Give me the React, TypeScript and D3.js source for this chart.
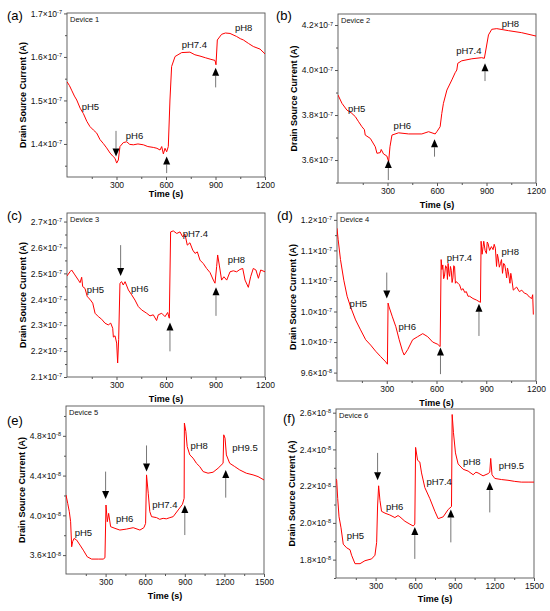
import React, { useRef, useEffect } from 'react';
import * as d3 from 'd3';

type Pt = [number, number];

interface Note {
    text: string;
    t: number;
    v: number;
}

interface Arrow {
    t: number;
    from: number;
    to: number;
}

// time (s), current (in the tick label unit)
const device1: Pt[] = [
    [0, 1.543], [15, 1.534], [30, 1.522], [45, 1.51], [59, 1.501], [80, 1.482], [99, 1.47], [120, 1.452],
    [139, 1.44], [160, 1.432], [180, 1.425], [200, 1.41], [220, 1.401], [240, 1.391], [261, 1.379],
    [280, 1.371], [291, 1.367], [301, 1.356], [311, 1.363], [321, 1.394], [341, 1.403], [362, 1.405],
    [380, 1.399], [402, 1.398], [430, 1.4], [463, 1.398], [490, 1.394], [523, 1.392], [545, 1.39],
    [564, 1.386], [574, 1.394], [584, 1.377], [594, 1.39], [604, 1.382], [614, 1.394], [624, 1.501],
    [634, 1.578], [655, 1.601], [695, 1.61], [745, 1.611], [775, 1.605], [806, 1.602], [840, 1.598],
    [867, 1.595], [897, 1.592], [903, 1.582], [911, 1.639], [937, 1.652], [960, 1.655], [988, 1.654],
    [1028, 1.647], [1050, 1.642], [1069, 1.639], [1100, 1.631], [1129, 1.624], [1170, 1.618], [1200, 1.607],
];
const device2: Pt[] = [
    [0, 3.889], [24, 3.852], [54, 3.822], [80, 3.81], [105, 3.793], [125, 3.77], [145, 3.748],
    [160, 3.735], [165, 3.711], [196, 3.696], [226, 3.659], [236, 3.63], [256, 3.633], [262, 3.647],
    [276, 3.627], [296, 3.618], [307, 3.593], [315, 3.659], [327, 3.711], [367, 3.721], [428, 3.716],
    [508, 3.716], [549, 3.726], [589, 3.716], [599, 3.726], [619, 3.748], [629, 3.807], [639, 3.852],
    [660, 3.911], [690, 3.956], [710, 3.988], [720, 4.0], [726, 4.03], [750, 4.041], [811, 4.05],
    [871, 4.055], [887, 4.052], [896, 4.089], [912, 4.156], [932, 4.181], [962, 4.184], [1033, 4.175],
    [1113, 4.166], [1200, 4.151],
];
const device3: Pt[] = [
    [0, 2.49], [18, 2.506], [28, 2.513], [48, 2.494], [69, 2.474], [79, 2.464], [89, 2.485],
    [95, 2.449], [109, 2.442], [123, 2.41], [139, 2.4], [156, 2.385], [170, 2.346], [190, 2.333],
    [210, 2.323], [230, 2.308], [250, 2.301], [265, 2.308], [277, 2.288], [281, 2.254], [291, 2.259],
    [301, 2.231], [307, 2.154], [313, 2.244], [321, 2.462], [331, 2.468], [341, 2.455], [352, 2.468],
    [372, 2.436], [392, 2.417], [412, 2.397], [432, 2.372], [452, 2.359], [483, 2.346], [503, 2.336],
    [523, 2.34], [543, 2.318], [553, 2.34], [574, 2.346], [594, 2.333], [610, 2.349], [620, 2.327],
    [628, 2.66], [644, 2.664], [665, 2.654], [685, 2.66], [701, 2.641], [715, 2.651], [729, 2.609],
    [745, 2.618], [762, 2.59], [776, 2.577], [790, 2.583], [806, 2.551], [826, 2.538], [846, 2.519],
    [867, 2.503], [887, 2.474], [897, 2.462], [907, 2.526], [913, 2.571], [923, 2.532], [937, 2.474],
    [951, 2.487], [968, 2.474], [988, 2.506], [1008, 2.51], [1028, 2.506], [1048, 2.515], [1065, 2.519],
    [1079, 2.474], [1099, 2.446], [1113, 2.487], [1129, 2.519], [1145, 2.513], [1160, 2.481],
    [1174, 2.513], [1200, 2.506],
];
const device4: Pt[] = [
    [0, 1.149], [7, 1.134], [21, 1.108], [41, 1.081], [61, 1.06], [82, 1.046], [112, 1.029],
    [142, 1.016], [173, 1.003], [203, 0.996], [233, 0.988], [263, 0.981], [294, 0.974], [304, 0.971],
    [308, 1.051], [314, 1.046], [334, 1.033], [355, 1.02], [375, 1.003], [395, 0.988], [405, 0.983],
    [426, 0.99], [456, 1.003], [486, 1.007], [517, 1.011], [547, 1.007], [577, 1.0], [608, 0.997],
    [622, 0.994], [628, 1.108], [633, 1.095], [638, 1.101], [643, 1.083], [648, 1.086], [655, 1.1],
    [662, 1.097], [666, 1.082], [670, 1.103], [675, 1.09], [679, 1.086], [684, 1.099], [689, 1.094],
    [694, 1.078], [699, 1.084], [704, 1.1], [709, 1.099], [714, 1.077], [719, 1.079], [730, 1.077],
    [739, 1.075], [750, 1.068], [760, 1.07], [770, 1.065], [780, 1.066], [790, 1.06], [800, 1.06],
    [820, 1.057], [841, 1.055], [865, 1.052], [869, 1.132], [875, 1.115], [881, 1.125], [885, 1.132],
    [893, 1.12], [901, 1.116], [906, 1.131], [911, 1.129], [920, 1.12], [931, 1.125], [941, 1.121],
    [948, 1.128], [955, 1.123], [962, 1.099], [967, 1.115], [972, 1.11], [979, 1.098], [986, 1.103],
    [992, 1.108], [998, 1.09], [1005, 1.103], [1012, 1.101], [1018, 1.092], [1023, 1.084], [1028, 1.097],
    [1033, 1.092], [1043, 1.077], [1048, 1.09], [1053, 1.084], [1063, 1.068], [1083, 1.072],
    [1100, 1.066], [1114, 1.068], [1130, 1.064], [1144, 1.063], [1160, 1.059], [1174, 1.057],
    [1180, 1.062], [1184, 1.036],
];
const device5: Pt[] = [
    [0, 4.205], [13, 4.121], [25, 4.037], [35, 3.936], [43, 3.684], [50, 3.735], [61, 3.768],
    [81, 3.751], [106, 3.701], [131, 3.65], [161, 3.583], [194, 3.56], [245, 3.56], [282, 3.56],
    [295, 3.573], [303, 4.104], [313, 3.936], [323, 4.02], [338, 3.886], [371, 3.869], [408, 3.852],
    [459, 3.862], [509, 3.876], [560, 3.852], [590, 3.876], [603, 3.919], [610, 4.407], [623, 4.222],
    [635, 4.037], [648, 3.987], [686, 3.977], [710, 3.96], [736, 3.97], [760, 3.965], [787, 3.977],
    [812, 3.987], [850, 4.054], [882, 4.111], [895, 4.171], [897, 4.928], [908, 4.844], [918, 4.692],
    [938, 4.608], [963, 4.575], [988, 4.524], [1013, 4.491], [1039, 4.44], [1076, 4.424], [1114, 4.434],
    [1152, 4.474], [1190, 4.524], [1195, 4.81], [1205, 4.776], [1215, 4.608], [1240, 4.524],
    [1278, 4.491], [1316, 4.457], [1366, 4.424], [1417, 4.407], [1455, 4.39], [1500, 4.356],
];
const device6: Pt[] = [
    [0, 2.24], [5, 2.232], [13, 2.132], [23, 2.033], [38, 1.973], [55, 1.884], [81, 1.864],
    [106, 1.854], [118, 1.824], [144, 1.778], [182, 1.778], [219, 1.794], [270, 1.804], [295, 1.824],
    [308, 1.894], [315, 2.092], [323, 2.202], [333, 2.122], [345, 2.063], [371, 2.053], [408, 2.043],
    [446, 2.029], [470, 2.04], [484, 2.033], [522, 2.009], [560, 1.993], [585, 1.983], [597, 1.993],
    [603, 2.411], [618, 2.341], [635, 2.331], [648, 2.272], [673, 2.192], [711, 2.132], [749, 2.063],
    [774, 2.023], [812, 2.033], [850, 2.073], [875, 2.089], [880, 2.59], [890, 2.491], [905, 2.381],
    [925, 2.321], [963, 2.292], [1001, 2.282], [1039, 2.262], [1060, 2.276], [1076, 2.272],
    [1114, 2.256], [1152, 2.268], [1165, 2.276], [1172, 2.351], [1182, 2.262], [1203, 2.242],
    [1253, 2.236], [1303, 2.232], [1354, 2.226], [1404, 2.222], [1455, 2.222], [1500, 2.222],
];

const notes1: Note[] = [
    { text: 'pH5', t: 89, v: 1.486 }, { text: 'pH6', t: 356, v: 1.418 },
    { text: 'pH7.4', t: 695, v: 1.629 }, { text: 'pH8', t: 1018, v: 1.667 },
];
const notes2: Note[] = [
    { text: 'pH5', t: 60, v: 3.83 }, { text: 'pH6', t: 337, v: 3.751 },
    { text: 'pH7.4', t: 716, v: 4.086 }, { text: 'pH8', t: 992, v: 4.204 },
];
const notes3: Note[] = [
    { text: 'pH5', t: 119, v: 2.438 }, { text: 'pH6', t: 388, v: 2.442 },
    { text: 'pH7.4', t: 701, v: 2.654 }, { text: 'pH8', t: 974, v: 2.551 },
];
const notes4: Note[] = [
    { text: 'pH5', t: 76, v: 1.05 }, { text: 'pH6', t: 371, v: 1.02 },
    { text: 'pH7.4', t: 662, v: 1.111 }, { text: 'pH8', t: 992, v: 1.118 },
];
const notes5: Note[] = [
    { text: 'pH5', t: 66, v: 3.825 }, { text: 'pH6', t: 378, v: 3.963 }, { text: 'pH7.4', t: 653, v: 4.104 },
    { text: 'pH8', t: 943, v: 4.703 }, { text: 'pH9.5', t: 1260, v: 4.676 },
];
const notes6: Note[] = [
    { text: 'pH5', t: 81, v: 1.933 }, { text: 'pH6', t: 378, v: 2.087 }, { text: 'pH7.4', t: 686, v: 2.222 },
    { text: 'pH8', t: 963, v: 2.335 }, { text: 'pH9.5', t: 1233, v: 2.311 },
];

const arrows1: Arrow[] = [
    { t: 297, from: 1.43, to: 1.371 }, { t: 604, from: 1.333, to: 1.371 }, { t: 901, from: 1.53, to: 1.575 },
];
const arrows2: Arrow[] = [
    { t: 305, from: 3.511, to: 3.6 }, { t: 585, from: 3.615, to: 3.692 }, { t: 891, from: 3.951, to: 4.03 },
];
const arrows3: Arrow[] = [
    { t: 325, from: 2.609, to: 2.49 }, { t: 624, from: 2.199, to: 2.31 }, { t: 903, from: 2.336, to: 2.446 },
];
const arrows4: Arrow[] = [
    { t: 300, from: 1.091, to: 1.057 }, { t: 624, from: 0.958, to: 0.993 }, { t: 856, from: 1.008, to: 1.05 },
];
const arrows5: Arrow[] = [
    { t: 300, from: 4.44, to: 4.165 }, { t: 610, from: 4.703, to: 4.44 },
    { t: 900, from: 3.802, to: 4.104 }, { t: 1210, from: 4.178, to: 4.457 },
];
const arrows6: Arrow[] = [
    { t: 315, from: 2.381, to: 2.232 }, { t: 597, from: 1.804, to: 1.977 },
    { t: 870, from: 1.894, to: 2.073 }, { t: 1165, from: 2.057, to: 2.222 },
];

const xTicks1200 = [300, 600, 900, 1200];
const xTicks1500 = [300, 600, 900, 1200, 1500];

const yTicks1 = [1.4, 1.5, 1.6, 1.7];
const yTicks2 = [3.6, 3.8, 4.0, 4.2];
const yTicks3 = [2.1, 2.2, 2.3, 2.4, 2.5, 2.6, 2.7];
const yTicks4 = [0.96, 1.0, 1.04, 1.08, 1.12, 1.16];
const yTicks5 = [3.6, 4.0, 4.4, 4.8];
const yTicks6 = [1.8, 2.0, 2.2, 2.4, 2.6];

const yLabels1 = ['1.4', '1.5', '1.6', '1.7'];
const yLabels2 = ['3.6', '3.8', '4.0', '4.2'];
const yLabels3 = ['2.1', '2.2', '2.3', '2.4', '2.5', '2.6', '2.7'];
const yLabels4 = ['9.6', '1.0', '1.0', '1.1', '1.1', '1.2'];
const yLabels5 = ['3.6', '4.0', '4.4', '4.8'];
const yLabels6 = ['1.8', '2.0', '2.2', '2.4', '2.6'];

const yExps4 = ['-8', '-7', '-7', '-7', '-7', '-7'];

const FONT = '"Liberation Sans", Arial, Helvetica, sans-serif';

interface Panel {
    letter: string;
    device: string;
    data: Pt[];
    notes: Note[];
    arrows: Arrow[];
    xMax: number;
    xTicks: number[];
    yDomain: [number, number];
    yTicks: number[];
    yLabels: string[];
    yExps: string[];
    box: [number, number, number, number];
    letterPos: [number, number];
    titleGap: number;
}

const panels: Panel[] = [
    {
        letter: '(a)', device: 'Device 1', data: device1, notes: notes1, arrows: arrows1,
        xMax: 1200, xTicks: xTicks1200, yDomain: [1.324, 1.701], yTicks: yTicks1, yLabels: yLabels1,
        yExps: yTicks1.map(() => '-7'), box: [67, 13, 265, 177], letterPos: [7, 20], titleGap: 20,
    },
    {
        letter: '(b)', device: 'Device 2', data: device2, notes: notes2, arrows: arrows2,
        xMax: 1200, xTicks: xTicks1200, yDomain: [3.498, 4.249], yTicks: yTicks2, yLabels: yLabels2,
        yExps: yTicks2.map(() => '-7'), box: [338, 14, 536, 183], letterPos: [276, 20], titleGap: 25,
    },
    {
        letter: '(c)', device: 'Device 3', data: device3, notes: notes3, arrows: arrows3,
        xMax: 1200, xTicks: xTicks1200, yDomain: [2.1, 2.733], yTicks: yTicks3, yLabels: yLabels3,
        yExps: yTicks3.map(() => '-7'), box: [67, 213, 265, 377], letterPos: [7, 220], titleGap: 25,
    },
    {
        letter: '(d)', device: 'Device 4', data: device4, notes: notes4, arrows: arrows4,
        xMax: 1200, xTicks: xTicks1200, yDomain: [0.949, 1.169], yTicks: yTicks4, yLabels: yLabels4,
        yExps: yExps4, box: [337, 213, 536, 381], letterPos: [277, 220], titleGap: 25,
    },
    {
        letter: '(e)', device: 'Device 5', data: device5, notes: notes5, arrows: arrows5,
        xMax: 1500, xTicks: xTicks1500, yDomain: [3.41, 5.1], yTicks: yTicks5, yLabels: yLabels5,
        yExps: yTicks5.map(() => '-8'), box: [66, 406, 264, 574], letterPos: [7, 425], titleGap: 25,
    },
    {
        letter: '(f)', device: 'Device 6', data: device6, notes: notes6, arrows: arrows6,
        xMax: 1500, xTicks: xTicks1500, yDomain: [1.7, 2.62], yTicks: yTicks6, yLabels: yLabels6,
        yExps: yTicks6.map(() => '-8'), box: [336, 409, 534, 578], letterPos: [283, 423], titleGap: 24,
    },
];

// midpoints between major ticks, plus half a step past each end when still inside the domain
const minorTicks = (ticks: number[], domain: [number, number]) => {
    const step = ticks[1] - ticks[0];
    const out: number[] = [];
    for (let v = ticks[0] - step / 2; v <= domain[1] + 1e-9; v += step) {
        if (v >= domain[0] - 1e-9) out.push(+v.toFixed(4));
    }
    return out;
};

const App: React.FC = () => {
    const ref = useRef<SVGSVGElement | null>(null);

    useEffect(() => {
        document.body.style.margin = '0';
        document.body.style.overflow = 'hidden';
        if (!ref.current) return;
        const svg = d3.select(ref.current);
        svg.selectAll('*').remove();

        panels.forEach((p, pi) => {
            const [x0, y0, x1, y1] = p.box;
            const x = d3.scaleLinear().domain([0, p.xMax]).range([x0, x1]);
            const y = d3.scaleLinear().domain(p.yDomain).range([y1, y0]);
            const g = svg.append('g').attr('font-family', FONT);

            // x axis, major + minor
            const xa = g.append('g').attr('transform', `translate(0,${y1})`)
                .call(d3.axisBottom(x).tickValues(p.xTicks).tickSize(3).tickPadding(2).tickFormat(d3.format('d')));
            g.append('g').attr('transform', `translate(0,${y1})`)
                .call(d3.axisBottom(x).tickValues(minorTicks(p.xTicks, [0, p.xMax])).tickSize(2).tickFormat(() => ''));

            // y axis, major + minor
            const ya = g.append('g').attr('transform', `translate(${x0},0)`)
                .call(d3.axisLeft(y).tickValues(p.yTicks).tickSize(3).tickPadding(2).tickFormat(() => ''));
            g.append('g').attr('transform', `translate(${x0},0)`)
                .call(d3.axisLeft(y).tickValues(minorTicks(p.yTicks, p.yDomain)).tickSize(2).tickFormat(() => ''));

            g.selectAll('.domain').remove();
            g.selectAll('.tick line').attr('stroke', '#555');
            xa.selectAll('text').attr('font-size', 8.5).attr('fill', '#111');

            ya.selectAll<SVGTextElement, number>('text').each(function (_d, i) {
                const t = d3.select(this).attr('font-size', 8.5).attr('fill', '#111');
                t.append('tspan').text(`${p.yLabels[i]}×10`);
                t.append('tspan').attr('dy', '-0.5em').attr('font-size', 5.5).text(p.yExps[i]);
            });

            // frame
            g.append('rect')
                .attr('x', x0).attr('y', y0)
                .attr('width', x1 - x0).attr('height', y1 - y0)
                .attr('fill', 'none').attr('stroke', '#555').attr('stroke-width', 0.9);

            // data line
            const clipId = `clip-${pi}`;
            g.append('clipPath').attr('id', clipId)
                .append('rect').attr('x', x0).attr('y', y0).attr('width', x1 - x0).attr('height', y1 - y0);
            const line = d3.line<Pt>().x(d => x(d[0])).y(d => y(d[1]));
            g.append('path')
                .datum(p.data)
                .attr('clip-path', `url(#${clipId})`)
                .attr('d', line)
                .attr('fill', 'none')
                .attr('stroke', '#ff0000')
                .attr('stroke-width', 1);

            // arrows
            p.arrows.forEach(a => {
                const ax = x(a.t);
                const tip = y(a.to);
                const base = y(a.from);
                const dir = tip > base ? 1 : -1;
                const headLen = 8;
                g.append('line')
                    .attr('x1', ax).attr('x2', ax)
                    .attr('y1', base).attr('y2', tip - dir * headLen)
                    .attr('stroke', '#777').attr('stroke-width', 1);
                g.append('path')
                    .attr('d', `M${ax - 3.5},${tip - dir * headLen}L${ax + 3.5},${tip - dir * headLen}L${ax},${tip}Z`)
                    .attr('fill', '#000');
            });

            // pH labels
            g.selectAll(null)
                .data(p.notes)
                .join('text')
                .attr('x', d => x(d.t))
                .attr('y', d => y(d.v))
                .attr('dy', '0.35em')
                .attr('font-size', 9.5)
                .attr('fill', '#111')
                .text(d => d.text);

            g.append('text')
                .attr('x', x0 + 3).attr('y', y0 + 9)
                .attr('font-size', 7.5).attr('fill', '#111')
                .text(p.device);

            g.append('text')
                .attr('x', (x0 + x1) / 2).attr('y', y1 + p.titleGap)
                .attr('text-anchor', 'middle')
                .attr('font-size', 9).attr('font-weight', 'bold')
                .text('Time (s)');

            g.append('text')
                .attr('transform', `translate(${x0 - 44},${(y0 + y1) / 2}) rotate(-90)`)
                .attr('text-anchor', 'middle')
                .attr('dy', '0.35em')
                .attr('font-size', 9).attr('font-weight', 'bold')
                .text('Drain Source Current (A)');

            g.append('text')
                .attr('x', p.letterPos[0]).attr('y', p.letterPos[1])
                .attr('font-size', 13)
                .text(p.letter);
        });
    }, []);

    return (
        <div>
            <svg ref={ref} width={550} height={611} style={{ display: 'block', background: '#fff' }} />
        </div>
    );
};

export default App;
